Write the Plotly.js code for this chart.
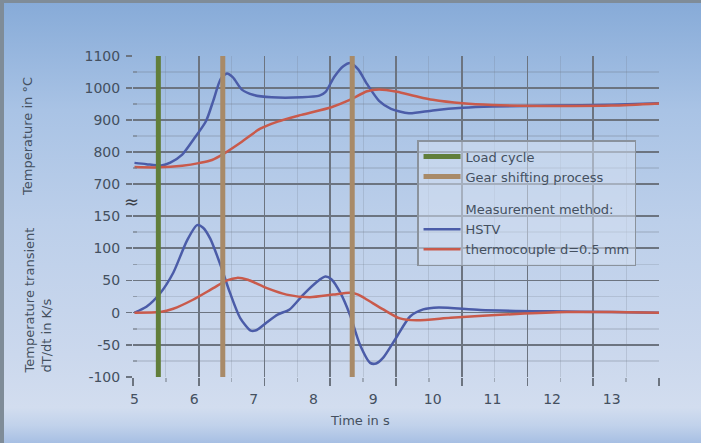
<!DOCTYPE html>
<html>
<head>
<meta charset="utf-8">
<script src="https://cdn.plot.ly/plotly-3.0.1.min.js"></script>
<style>
  html, body { margin:0; padding:0; width:701px; height:443px; overflow:hidden; }
  body {
    background: linear-gradient(to bottom, #7f8c98 0px, #7f8c98 3px, #87abd8 3px, #a9c3e5 25%, #bccfea 50%, #cbd8ed 80%, #d2ddef 92%, #c1d2eb 96%, #a7bfe3 100%);
    position: relative;
  }
  #leftbar { position:absolute; left:0; top:0; width:4px; height:443px; background:#7f8c98; }
  #chart { position:absolute; left:0; top:0; width:701px; height:443px; }
</style>
</head>
<body>
<div id="leftbar"></div>
<div id="chart"></div>
<script>
// ---- data ----
const timeHstvTemp = [5.0, 5.2, 5.45, 5.6, 5.8, 6.0, 6.2, 6.32, 6.45, 6.55, 6.65, 6.8, 7.0, 7.3, 7.8, 8.1, 8.2, 8.35, 8.5, 8.62, 8.75, 8.9, 9.1, 9.3, 9.6, 10.0, 10.5, 11.0, 12.0, 13.0, 13.8];
const hstvTemp     = [766, 762, 758, 767, 792, 842, 897, 960, 1030, 1045, 1033, 995, 978, 971, 971, 976, 987, 1035, 1068, 1078, 1058, 1012, 960, 935, 921, 930, 938, 942, 945, 948, 952];

const timeTcTemp = [5.0, 5.4, 5.8, 6.1, 6.3, 6.5, 6.8, 7.1, 7.4, 7.8, 8.3, 8.6, 8.9, 9.1, 9.4, 9.7, 10.0, 10.5, 11.0, 12.0, 13.0, 13.8];
const tcTemp     = [753, 752, 757, 766, 775, 795, 832, 872, 895, 916, 940, 962, 990, 995, 988, 975, 963, 952, 947, 944, 945, 952];

const timeHstvRate = [5.0, 5.2, 5.43, 5.65, 5.88, 6.05, 6.15, 6.27, 6.43, 6.6, 6.77, 6.95, 7.05, 7.22, 7.4, 7.6, 7.83, 8.06, 8.2, 8.3, 8.45, 8.61, 8.78, 8.95, 9.05, 9.17, 9.4, 9.62, 9.84, 10.1, 10.8, 12.0, 13.0, 13.8];
const hstvRate     = [0, 9, 30, 62, 112, 136, 132, 115, 77, 31, -8, -28, -27, -15, -3, 5, 28, 48, 56, 52, 31, -3, -50, -78, -79, -70, -37, -6, 5, 8, 4, 2, 1, 0];

const timeTcRate = [5.0, 5.43, 5.65, 5.98, 6.32, 6.55, 6.72, 6.9, 7.22, 7.55, 7.94, 8.33, 8.61, 8.75, 8.9, 9.17, 9.45, 9.73, 10.3, 10.84, 11.4, 12.25, 13.0, 13.8];
const tcRate     = [0, 1, 6, 20, 38, 50, 54, 51, 38, 28, 24, 28, 31, 28, 20, 5, -9, -12, -8, -5, -2, 1, 1, 0];

const loadCycleTimes = [5.40];
const gearShiftTimes = [6.48, 8.65];

const xTickVals = [5, 6, 7, 8, 9, 10, 11, 12, 13];
const tempTickVals = [700, 800, 900, 1000, 1100];
const rateTickVals = [-100, -50, 0, 50, 100, 150];
const rateTickText = ['-100', '-50', '0', '50', '100', '150'];

// ---- styles ----
const FONT = 'DejaVu Sans, sans-serif';
const TXT = '#445060';
const GRID = '#6c7480';
const MINOR = 'rgba(111,119,130,0.22)';
const BLUE = '#4b5ca8';
const RED = '#c95a4b';

function verticalBars(times) {
  const x = [], y = [];
  times.forEach(t => { x.push(t, t, null); y.push(0, 1, null); });
  return {x, y};
}
const lc = verticalBars(loadCycleTimes);
const gs = verticalBars(gearShiftTimes);

const curve = {mode:'lines', line:{width:2.5, shape:'spline', smoothing:0.7}, hoverinfo:'skip'};

const data = [
  Object.assign({}, curve, {x: timeHstvTemp, y: hstvTemp, xaxis:'x', yaxis:'y', name:'HSTV', legendgroup:'m', legendrank:4, line:{...curve.line, color:BLUE}}),
  Object.assign({}, curve, {x: timeTcTemp, y: tcTemp, xaxis:'x', yaxis:'y', name:'thermocouple d=0.5 mm', legendgroup:'m', legendrank:5, line:{...curve.line, color:RED}}),
  Object.assign({}, curve, {x: timeHstvRate, y: hstvRate, xaxis:'x', yaxis:'y2', showlegend:false, line:{...curve.line, color:BLUE}}),
  Object.assign({}, curve, {x: timeTcRate, y: tcRate, xaxis:'x', yaxis:'y2', showlegend:false, line:{...curve.line, color:RED}}),
  {x:[null], y:[null], xaxis:'x', yaxis:'y', mode:'lines', line:{width:0, color:'rgba(0,0,0,0)'}, name:'Measurement method:', legendgroup:'m', legendrank:3, hoverinfo:'skip'},
  {x: lc.x, y: lc.y, xaxis:'x', yaxis:'y3', mode:'lines', line:{width:5, color:'#617e3a'}, name:'Load cycle', legendgroup:'e', legendrank:1, hoverinfo:'skip'},
  {x: gs.x, y: gs.y, xaxis:'x', yaxis:'y3', mode:'lines', line:{width:5, color:'#a88a68'}, name:'Gear shifting process', legendgroup:'e', legendrank:2, hoverinfo:'skip'},
  {x:[], y:[], xaxis:'x2', yaxis:'y2', showlegend:false, hoverinfo:'skip', mode:'lines'},
  {x:[], y:[], xaxis:'x3', yaxis:'y', showlegend:false, hoverinfo:'skip', mode:'lines'}
];

const split = (377 - 200) / 321;
const tickfont = {family: FONT, size: 14, color: TXT};

const gridAxis = {
  range:[0, 8], tick0:0, dtick:1, showticklabels:false, showgrid:true,
  gridcolor:GRID, gridwidth:1.7, zeroline:false, showline:false
};

const layout = {
  width:701, height:443,
  margin:{l:133, r:42, t:56, b:66, pad:0},
  paper_bgcolor:'rgba(0,0,0,0)', plot_bgcolor:'rgba(0,0,0,0)',
  showlegend:true, hovermode:false,
  font:{family:FONT, color:TXT},
  xaxis:{domain:[0,1], range:[4.975, 13.793], anchor:'y2', tickmode:'array', tickvals:xTickVals,
         showgrid:false, zeroline:false, showline:false, ticks:'', tickfont:tickfont, ticklabelstandoff:12},
  xaxis2: Object.assign({}, gridAxis, {overlaying:'x', anchor:'y2', ticks:'outside', ticklen:8, tickwidth:1.7, tickcolor:GRID,
          minor:{dtick:0.5, tick0:0, showgrid:true, gridcolor:MINOR, gridwidth:1, ticks:'outside', ticklen:4, tickcolor:'rgba(111,119,130,0.5)'}}),
  xaxis3: Object.assign({}, gridAxis, {overlaying:'x', anchor:'y', ticks:'',
          minor:{dtick:0.5, tick0:0, showgrid:true, gridcolor:MINOR, gridwidth:1, ticks:''}}),
  yaxis:{domain:[split, 1], range:[650, 1100], anchor:'x', tickmode:'array', tickvals:tempTickVals,
         showgrid:true, gridcolor:GRID, gridwidth:1.7, zeroline:false, showline:false,
         ticks:'outside', ticklen:6, tickwidth:1.7, tickcolor:GRID, tickfont:tickfont, ticklabelstandoff:3,
         minor:{tickmode:'array', tickvals:[750, 850, 950, 1050], showgrid:true, gridcolor:MINOR, ticks:'inside', ticklen:4, tickcolor:'rgba(111,119,130,0.5)'}},
  yaxis2:{domain:[0, split], range:[-100, 175], anchor:'x', tickmode:'array', tickvals:rateTickVals, ticktext:rateTickText,
         showgrid:true, gridcolor:GRID, gridwidth:1.7, zeroline:false, showline:false,
         ticks:'outside', ticklen:6, tickwidth:1.7, tickcolor:GRID, tickfont:tickfont, ticklabelstandoff:3,
         minor:{tickmode:'array', tickvals:[-75, -25, 25, 75, 125], showgrid:true, gridcolor:MINOR, ticks:'inside', ticklen:4, tickcolor:'rgba(111,119,130,0.5)'}},
  yaxis3:{domain:[0,1], range:[0,1], anchor:'x', visible:false, fixedrange:true},
  legend:{x:0.54, y:0.738, xanchor:'left', yanchor:'top', bgcolor:'rgba(214,224,240,0.55)',
          bordercolor:'#8a929c', borderwidth:1.5, font:{family:FONT, size:13, color:TXT},
          traceorder:'grouped', tracegroupgap:13, itemwidth:37},
  annotations:[
    {text:'Temperature in °C', xref:'paper', yref:'paper', x:-0.1996, y:0.7477, xanchor:'center', yanchor:'middle',
     textangle:-90, showarrow:false, font:{family:FONT, size:13, color:TXT}},
    {text:'Temperature transient<br>dT/dt in K/s', xref:'paper', yref:'paper', x:-0.1797, y:0.2399, xanchor:'center', yanchor:'middle',
     textangle:-90, align:'left', showarrow:false, font:{family:FONT, size:13, color:TXT}},
    {text:'Time in s', xref:'paper', yref:'paper', x:0.4316, y:-0.134, xanchor:'center', yanchor:'middle',
     showarrow:false, font:{family:FONT, size:13, color:TXT}},
    {text:'≈', xref:'paper', yref:'paper', x:-0.002, y:0.548, xanchor:'center', yanchor:'middle',
     showarrow:false, font:{family:FONT, size:18, color:'#3b4048'}}
  ]
};

Plotly.newPlot('chart', data, layout, {staticPlot:true, displayModeBar:false});
</script>
</body>
</html>
